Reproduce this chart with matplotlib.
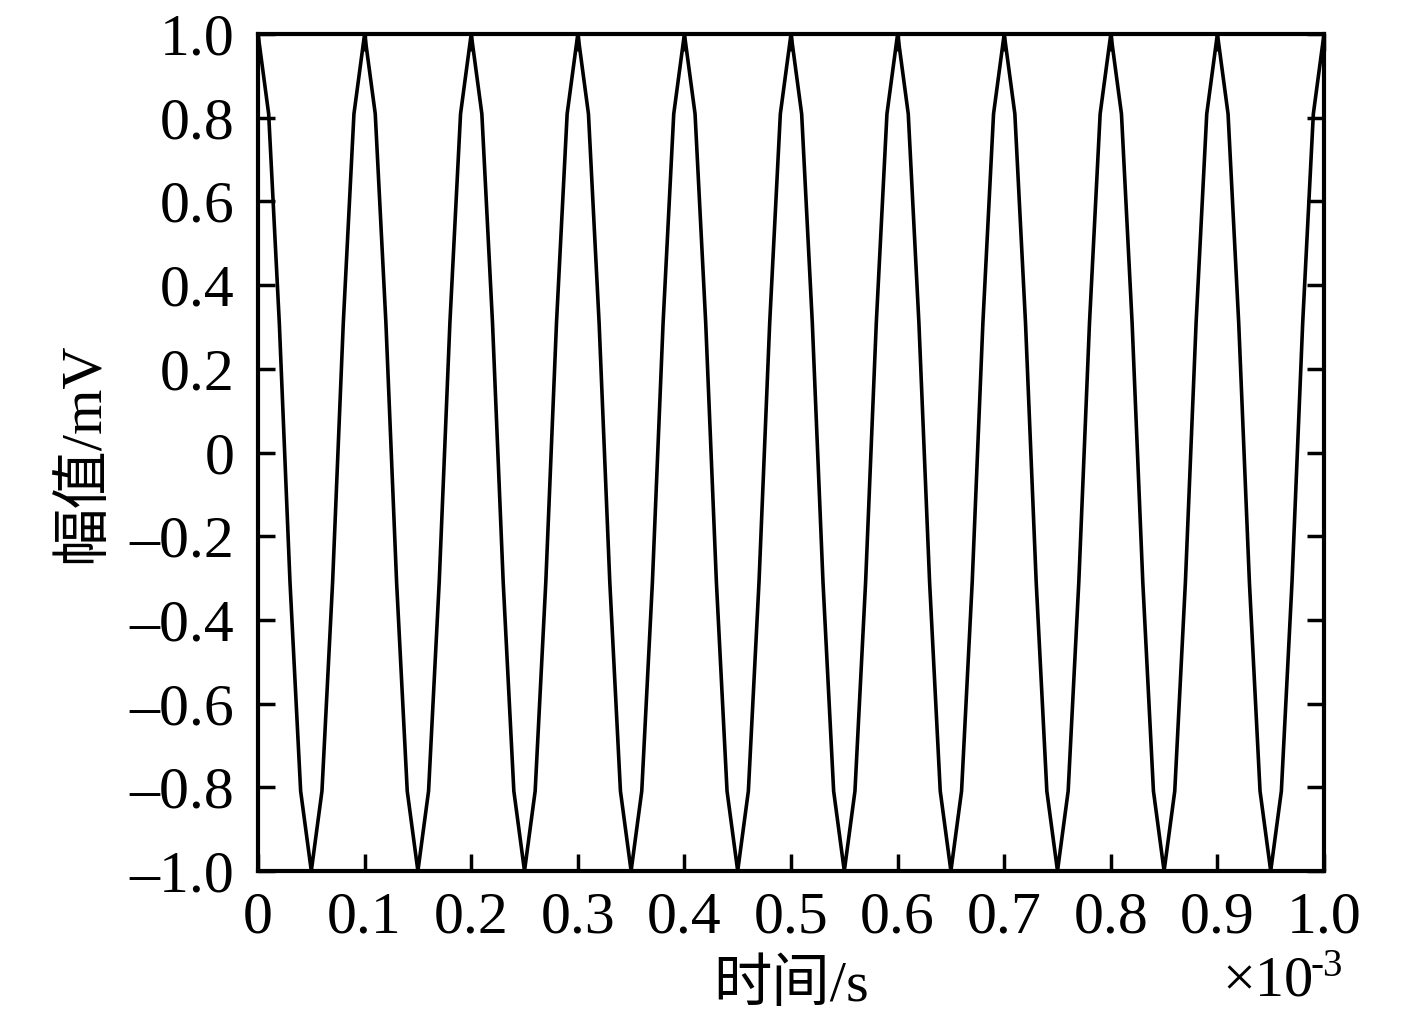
import numpy as np
import matplotlib
matplotlib.use("Agg")
import matplotlib.pyplot as plt

# sample period (in units of 1e-3 s)
sample_interval = 0.01
amplitude = [
    1.0, 0.809, 0.309, -0.309, -0.809, -1.0, -0.809, -0.309, 0.309, 0.809,
    1.0, 0.809, 0.309, -0.309, -0.809, -1.0, -0.809, -0.309, 0.309, 0.809,
    1.0, 0.809, 0.309, -0.309, -0.809, -1.0, -0.809, -0.309, 0.309, 0.809,
    1.0, 0.809, 0.309, -0.309, -0.809, -1.0, -0.809, -0.309, 0.309, 0.809,
    1.0, 0.809, 0.309, -0.309, -0.809, -1.0, -0.809, -0.309, 0.309, 0.809,
    1.0, 0.809, 0.309, -0.309, -0.809, -1.0, -0.809, -0.309, 0.309, 0.809,
    1.0, 0.809, 0.309, -0.309, -0.809, -1.0, -0.809, -0.309, 0.309, 0.809,
    1.0, 0.809, 0.309, -0.309, -0.809, -1.0, -0.809, -0.309, 0.309, 0.809,
    1.0, 0.809, 0.309, -0.309, -0.809, -1.0, -0.809, -0.309, 0.309, 0.809,
    1.0, 0.809, 0.309, -0.309, -0.809, -1.0, -0.809, -0.309, 0.309, 0.809,
    1.0,
]
time = np.arange(len(amplitude)) * sample_interval

xticks = [0, 0.1, 0.2, 0.3, 0.4, 0.5, 0.6, 0.7, 0.8, 0.9, 1.0]
xticklabels = ["0", "0.1", "0.2", "0.3", "0.4", "0.5", "0.6", "0.7", "0.8", "0.9", "1.0"]
yticks = [-1.0, -0.8, -0.6, -0.4, -0.2, 0, 0.2, 0.4, 0.6, 0.8, 1.0]
yticklabels = ["\u20131.0", "\u20130.8", "\u20130.6", "\u20130.4", "\u20130.2", "0",
               "0.2", "0.4", "0.6", "0.8", "1.0"]

serif = ["Liberation Serif", "Noto Sans CJK SC", "DejaVu Sans"]
plt.rcParams['font.family'] = serif

fig = plt.figure(figsize=(14.17, 10.28), dpi=100)
ax = fig.add_axes([258 / 1417, 1 - 871 / 1028, (1324 - 258) / 1417, (871 - 34) / 1028])

ax.plot(time, amplitude, color="black", linewidth=2.6)
ax.set_xlim(0, 1.0)
ax.set_ylim(-1.0, 1.0)

ax.set_xticks(xticks)
ax.set_xticklabels(xticklabels)
ax.set_yticks(yticks)
ax.set_yticklabels(yticklabels)
ax.tick_params(direction="in", length=12, width=2.5, labelsize=43,
               top=True, right=True)
ax.tick_params(axis="x", pad=15)
ax.tick_params(axis="y", pad=17)
for lbl in ax.get_xticklabels() + ax.get_yticklabels():
    lbl.set_family(serif)
for s in ax.spines.values():
    s.set_linewidth(3)

ax.set_xlabel("时间/s", fontsize=42, family=serif, labelpad=10)
ax.set_ylabel("幅值/mV", fontsize=42, family=serif, labelpad=14)

fig.text(1222 / 1417, 1 - 982 / 1028, "×10", fontsize=42, family=serif,
         ha="left", va="center")
fig.text(1311 / 1417, 1 - 967 / 1028, "-3", fontsize=28, family=serif,
         ha="left", va="center")

fig.savefig("out.png", dpi=100)
